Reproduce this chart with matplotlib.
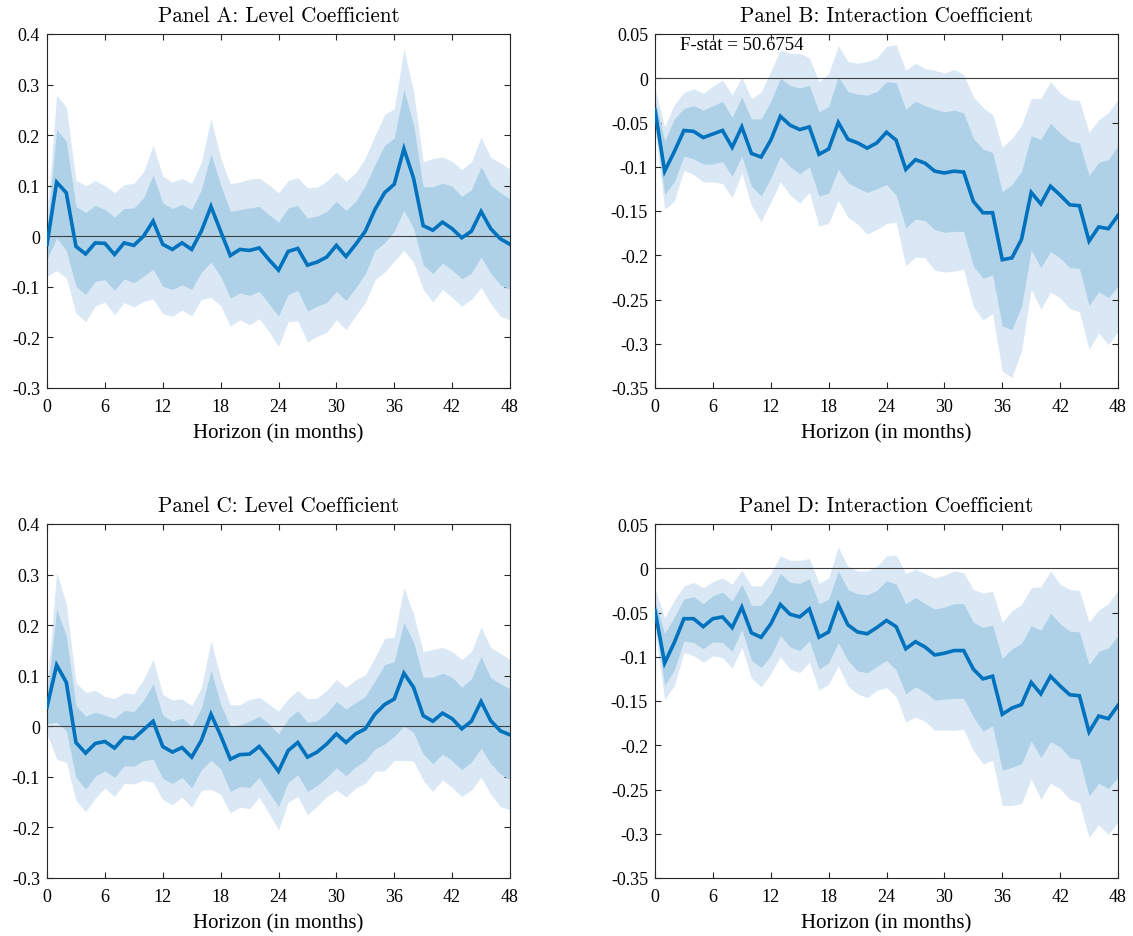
import numpy as np
import matplotlib
matplotlib.use('Agg')
import matplotlib.pyplot as plt

horizon = np.arange(49)

# Panel A: level coefficient (point estimate, 68% and 90% bands)
a_coef = [-0.016, 0.107, 0.086, -0.02, -0.035, -0.013, -0.014, -0.036, -0.013, -0.018, 0.0, 0.03,
          -0.016, -0.026, -0.013, -0.026, 0.01, 0.059, 0.01, -0.038, -0.026, -0.028, -0.023, -0.046,
          -0.067, -0.03, -0.024, -0.057, -0.051, -0.041, -0.018, -0.04, -0.016, 0.01, 0.053, 0.086,
          0.103, 0.173, 0.115, 0.021, 0.012, 0.028, 0.015, -0.003, 0.01, 0.049, 0.015, -0.005, -0.016]
a_hi68 = [0.013, 0.211, 0.188, 0.059, 0.047, 0.061, 0.053, 0.038, 0.055, 0.056, 0.076, 0.121,
          0.066, 0.055, 0.063, 0.053, 0.092, 0.163, 0.102, 0.049, 0.053, 0.056, 0.059, 0.043,
          0.028, 0.056, 0.061, 0.036, 0.04, 0.049, 0.069, 0.051, 0.069, 0.1, 0.142, 0.18,
          0.194, 0.29, 0.221, 0.098, 0.098, 0.105, 0.099, 0.079, 0.092, 0.138, 0.101, 0.086, 0.074]
a_lo68 = [-0.046, -0.003, -0.028, -0.099, -0.115, -0.089, -0.086, -0.107, -0.084, -0.092, -0.079, -0.065,
          -0.099, -0.105, -0.096, -0.105, -0.071, -0.051, -0.079, -0.122, -0.112, -0.117, -0.109, -0.133,
          -0.158, -0.115, -0.107, -0.148, -0.138, -0.131, -0.109, -0.127, -0.102, -0.074, -0.028, -0.013,
          0.01, 0.051, 0.016, -0.056, -0.074, -0.053, -0.067, -0.084, -0.073, -0.041, -0.073, -0.096, -0.105]
a_hi90 = [0.04, 0.279, 0.256, 0.111, 0.1, 0.11, 0.1, 0.086, 0.102, 0.105, 0.127, 0.18,
          0.119, 0.107, 0.114, 0.105, 0.146, 0.233, 0.155, 0.104, 0.107, 0.113, 0.115, 0.102,
          0.086, 0.11, 0.116, 0.096, 0.097, 0.109, 0.127, 0.109, 0.125, 0.155, 0.199, 0.241,
          0.252, 0.37, 0.287, 0.147, 0.154, 0.157, 0.148, 0.132, 0.147, 0.196, 0.156, 0.145, 0.133]
a_lo90 = [-0.079, -0.068, -0.082, -0.152, -0.169, -0.138, -0.13, -0.155, -0.131, -0.14, -0.129, -0.124,
          -0.153, -0.158, -0.146, -0.157, -0.125, -0.121, -0.137, -0.178, -0.165, -0.175, -0.163, -0.188,
          -0.218, -0.169, -0.167, -0.209, -0.198, -0.19, -0.165, -0.185, -0.157, -0.131, -0.086, -0.071,
          -0.049, -0.028, -0.051, -0.105, -0.13, -0.105, -0.121, -0.138, -0.125, -0.101, -0.133, -0.158, -0.166]

# Panel B: interaction coefficient
b_coef = [-0.036, -0.105, -0.083, -0.059, -0.06, -0.067, -0.063, -0.059, -0.078, -0.055, -0.085, -0.089,
          -0.07, -0.043, -0.053, -0.058, -0.055, -0.086, -0.08, -0.05, -0.069, -0.073, -0.079, -0.073,
          -0.061, -0.07, -0.103, -0.092, -0.096, -0.105, -0.107, -0.105, -0.106, -0.139, -0.152, -0.152,
          -0.205, -0.203, -0.182, -0.129, -0.142, -0.122, -0.132, -0.143, -0.144, -0.184, -0.168, -0.17, -0.155]
b_hi68 = [-0.024, -0.071, -0.046, -0.034, -0.031, -0.036, -0.031, -0.026, -0.044, -0.021, -0.046, -0.046,
          -0.026, 0.0, -0.008, -0.011, -0.008, -0.038, -0.032, 0.002, -0.015, -0.018, -0.019, -0.015,
          -0.004, -0.005, -0.035, -0.026, -0.031, -0.035, -0.038, -0.036, -0.039, -0.068, -0.08, -0.084,
          -0.128, -0.12, -0.105, -0.065, -0.069, -0.051, -0.062, -0.071, -0.073, -0.11, -0.095, -0.092, -0.076]
b_lo68 = [-0.047, -0.131, -0.117, -0.088, -0.091, -0.097, -0.097, -0.094, -0.111, -0.088, -0.122, -0.133,
          -0.113, -0.088, -0.1, -0.108, -0.1, -0.133, -0.13, -0.103, -0.118, -0.124, -0.129, -0.125,
          -0.12, -0.132, -0.169, -0.159, -0.161, -0.171, -0.174, -0.173, -0.173, -0.212, -0.226, -0.222,
          -0.28, -0.284, -0.258, -0.194, -0.214, -0.196, -0.203, -0.214, -0.215, -0.257, -0.241, -0.248, -0.235]
b_hi90 = [-0.011, -0.055, -0.03, -0.016, -0.012, -0.017, -0.009, -0.002, -0.019, 0.001, -0.023, -0.016,
          0.008, 0.032, 0.028, 0.028, 0.023, -0.004, 0.005, 0.037, 0.019, 0.017, 0.019, 0.023,
          0.036, 0.038, 0.009, 0.017, 0.011, 0.009, 0.006, 0.01, 0.004, -0.021, -0.033, -0.041,
          -0.078, -0.068, -0.053, -0.023, -0.023, -0.004, -0.017, -0.024, -0.025, -0.061, -0.047, -0.039, -0.024]
b_lo90 = [-0.058, -0.148, -0.139, -0.104, -0.109, -0.117, -0.117, -0.119, -0.135, -0.107, -0.144, -0.162,
          -0.14, -0.117, -0.132, -0.141, -0.129, -0.167, -0.164, -0.138, -0.157, -0.165, -0.176, -0.171,
          -0.164, -0.163, -0.212, -0.202, -0.203, -0.217, -0.219, -0.218, -0.216, -0.258, -0.273, -0.266,
          -0.331, -0.338, -0.308, -0.238, -0.261, -0.242, -0.248, -0.26, -0.264, -0.306, -0.288, -0.301, -0.286]

# Panel C: level coefficient
c_coef = [0.038, 0.121, 0.087, -0.032, -0.053, -0.034, -0.03, -0.043, -0.022, -0.024, -0.007, 0.01,
          -0.04, -0.051, -0.042, -0.061, -0.028, 0.024, -0.018, -0.065, -0.056, -0.055, -0.04, -0.063,
          -0.089, -0.048, -0.032, -0.061, -0.051, -0.035, -0.015, -0.032, -0.015, -0.005, 0.024, 0.043,
          0.054, 0.105, 0.077, 0.021, 0.01, 0.026, 0.015, -0.005, 0.01, 0.049, 0.011, -0.009, -0.017]
c_hi68 = [0.06, 0.232, 0.179, 0.041, 0.02, 0.028, 0.022, 0.016, 0.031, 0.029, 0.051, 0.084,
          0.022, 0.01, 0.016, 0.0, 0.036, 0.111, 0.044, 0.0, 0.003, 0.01, 0.02, 0.005,
          -0.015, 0.015, 0.031, 0.008, 0.011, 0.026, 0.049, 0.034, 0.047, 0.059, 0.09, 0.122,
          0.128, 0.206, 0.166, 0.097, 0.097, 0.105, 0.097, 0.077, 0.094, 0.138, 0.096, 0.084, 0.074]
c_lo68 = [0.005, 0.008, -0.009, -0.101, -0.124, -0.099, -0.088, -0.101, -0.078, -0.079, -0.068, -0.065,
          -0.103, -0.113, -0.101, -0.122, -0.086, -0.067, -0.084, -0.129, -0.119, -0.121, -0.101, -0.131,
          -0.159, -0.111, -0.096, -0.129, -0.117, -0.101, -0.082, -0.098, -0.08, -0.068, -0.045, -0.035,
          -0.02, 0.0, -0.012, -0.055, -0.074, -0.055, -0.068, -0.086, -0.071, -0.043, -0.074, -0.094, -0.106]
c_hi90 = [0.08, 0.305, 0.242, 0.087, 0.067, 0.071, 0.059, 0.055, 0.066, 0.064, 0.092, 0.132,
          0.063, 0.052, 0.054, 0.041, 0.076, 0.169, 0.096, 0.042, 0.043, 0.053, 0.057, 0.044,
          0.03, 0.054, 0.071, 0.054, 0.056, 0.071, 0.092, 0.077, 0.092, 0.102, 0.136, 0.174,
          0.176, 0.274, 0.222, 0.148, 0.152, 0.156, 0.148, 0.132, 0.148, 0.196, 0.156, 0.144, 0.132]
c_lo90 = [-0.015, -0.065, -0.071, -0.146, -0.169, -0.142, -0.122, -0.139, -0.113, -0.114, -0.107, -0.111,
          -0.145, -0.155, -0.14, -0.16, -0.127, -0.125, -0.134, -0.171, -0.16, -0.163, -0.14, -0.172,
          -0.205, -0.15, -0.139, -0.175, -0.158, -0.139, -0.126, -0.14, -0.122, -0.113, -0.089, -0.088,
          -0.068, -0.067, -0.069, -0.107, -0.129, -0.106, -0.121, -0.139, -0.126, -0.101, -0.134, -0.159, -0.165]

# Panel D: interaction coefficient
d_coef = [-0.048, -0.107, -0.084, -0.057, -0.057, -0.066, -0.057, -0.055, -0.067, -0.044, -0.073, -0.078,
          -0.063, -0.041, -0.052, -0.055, -0.046, -0.078, -0.072, -0.041, -0.064, -0.072, -0.074, -0.067,
          -0.059, -0.066, -0.091, -0.083, -0.089, -0.098, -0.096, -0.093, -0.093, -0.114, -0.125, -0.122,
          -0.165, -0.158, -0.154, -0.129, -0.142, -0.122, -0.133, -0.143, -0.144, -0.185, -0.167, -0.17, -0.155]
d_hi68 = [-0.037, -0.074, -0.055, -0.035, -0.032, -0.04, -0.031, -0.027, -0.037, -0.018, -0.042, -0.042,
          -0.028, -0.006, -0.016, -0.017, -0.012, -0.04, -0.035, -0.003, -0.024, -0.029, -0.03, -0.025,
          -0.014, -0.018, -0.04, -0.033, -0.04, -0.046, -0.044, -0.04, -0.04, -0.061, -0.067, -0.064,
          -0.102, -0.091, -0.085, -0.065, -0.07, -0.051, -0.063, -0.071, -0.072, -0.109, -0.094, -0.09, -0.076]
d_lo68 = [-0.059, -0.132, -0.115, -0.082, -0.084, -0.091, -0.083, -0.084, -0.094, -0.069, -0.104, -0.112,
          -0.099, -0.076, -0.089, -0.093, -0.082, -0.114, -0.107, -0.084, -0.104, -0.116, -0.118, -0.111,
          -0.104, -0.115, -0.142, -0.134, -0.14, -0.149, -0.148, -0.147, -0.147, -0.168, -0.184, -0.178,
          -0.228, -0.225, -0.221, -0.195, -0.214, -0.196, -0.202, -0.214, -0.216, -0.257, -0.243, -0.249, -0.236]
d_hi90 = [-0.023, -0.056, -0.036, -0.02, -0.016, -0.022, -0.015, -0.011, -0.018, -0.002, -0.02, -0.02,
          -0.006, 0.014, 0.009, 0.009, 0.011, -0.017, -0.011, 0.024, 0.002, -0.003, -0.003, 0.002,
          0.014, 0.015, -0.006, -0.001, -0.006, -0.011, -0.008, -0.003, -0.005, -0.024, -0.028, -0.026,
          -0.061, -0.048, -0.041, -0.022, -0.021, -0.003, -0.018, -0.024, -0.025, -0.061, -0.047, -0.04, -0.025]
d_lo90 = [-0.07, -0.148, -0.133, -0.095, -0.099, -0.106, -0.099, -0.101, -0.113, -0.089, -0.124, -0.134,
          -0.119, -0.1, -0.114, -0.118, -0.106, -0.138, -0.131, -0.11, -0.133, -0.142, -0.146, -0.138,
          -0.135, -0.145, -0.174, -0.168, -0.173, -0.183, -0.183, -0.183, -0.182, -0.206, -0.221, -0.217,
          -0.268, -0.268, -0.266, -0.238, -0.261, -0.243, -0.249, -0.261, -0.265, -0.304, -0.29, -0.301, -0.287]

level_ticks = [-0.3, -0.2, -0.1, 0, 0.1, 0.2, 0.3, 0.4]
inter_ticks = [-0.35, -0.3, -0.25, -0.2, -0.15, -0.1, -0.05, 0, 0.05]
month_ticks = [0, 6, 12, 18, 24, 30, 36, 42, 48]

plt.rcParams['font.family'] = ['Liberation Serif', 'DejaVu Serif']
plt.rcParams['axes.unicode_minus'] = False

LIGHT = '#dae8f5'
DARK = '#aed1e8'
LINE = '#0072bd'
AXC = '#262626'

fig = plt.figure(figsize=(11.33, 9.37), dpi=100)


def draw_panel(rect, title, coef, lo68, hi68, lo90, hi90, yticks, note=None):
    ax = fig.add_axes(rect)
    ax.fill_between(horizon, lo90, hi90, color=LIGHT, lw=0, zorder=1)
    ax.fill_between(horizon, lo68, hi68, color=DARK, lw=0, zorder=2)
    ax.axhline(0, color='#404040', lw=0.8, zorder=3)
    ax.plot(horizon, coef, color=LINE, lw=2.6, zorder=4, solid_joinstyle='miter')
    ax.set_xlim(0, 48)
    ax.set_ylim(min(yticks), max(yticks))
    ax.set_xticks(month_ticks)
    ax.set_yticks(yticks)
    ax.set_yticklabels(['%g' % t for t in yticks])
    ax.tick_params(direction='in', top=True, right=True, length=4, width=0.8,
                   colors=AXC, labelsize=13, labelcolor='black')
    ax.tick_params(axis='x', pad=7)
    ax.tick_params(axis='y', pad=5)
    for s in ax.spines.values():
        s.set_color(AXC)
        s.set_linewidth(0.8)
    # titles are typeset in Computer Modern in the original figure
    ax.set_title(title, fontsize=15.2, pad=9, family='cmr10')
    ax.set_xlabel('Horizon (in months)', fontsize=15, labelpad=6)
    if note:
        ax.text(0.054, 0.969, note, transform=ax.transAxes, ha='left', va='center',
                fontsize=13.5, zorder=5)
    return ax


W = 1133.0
H = 937.0
left_a, left_b = 47 / W, 655 / W
width = 463 / W
height = 354 / H
bot_top, bot_bottom = 1 - 389 / H, 1 - 879 / H

draw_panel([left_a, bot_top, width, height], 'Panel A: Level Coefficient',
           a_coef, a_lo68, a_hi68, a_lo90, a_hi90, level_ticks)
draw_panel([left_b, bot_top, width, height], 'Panel B: Interaction Coefficient',
           b_coef, b_lo68, b_hi68, b_lo90, b_hi90, inter_ticks, note='F-stat = 50.6754')
draw_panel([left_a, bot_bottom, width, height], 'Panel C: Level Coefficient',
           c_coef, c_lo68, c_hi68, c_lo90, c_hi90, level_ticks)
draw_panel([left_b, bot_bottom, width, height], 'Panel D: Interaction Coefficient',
           d_coef, d_lo68, d_hi68, d_lo90, d_hi90, inter_ticks)

fig.savefig('out.png', dpi=100)
